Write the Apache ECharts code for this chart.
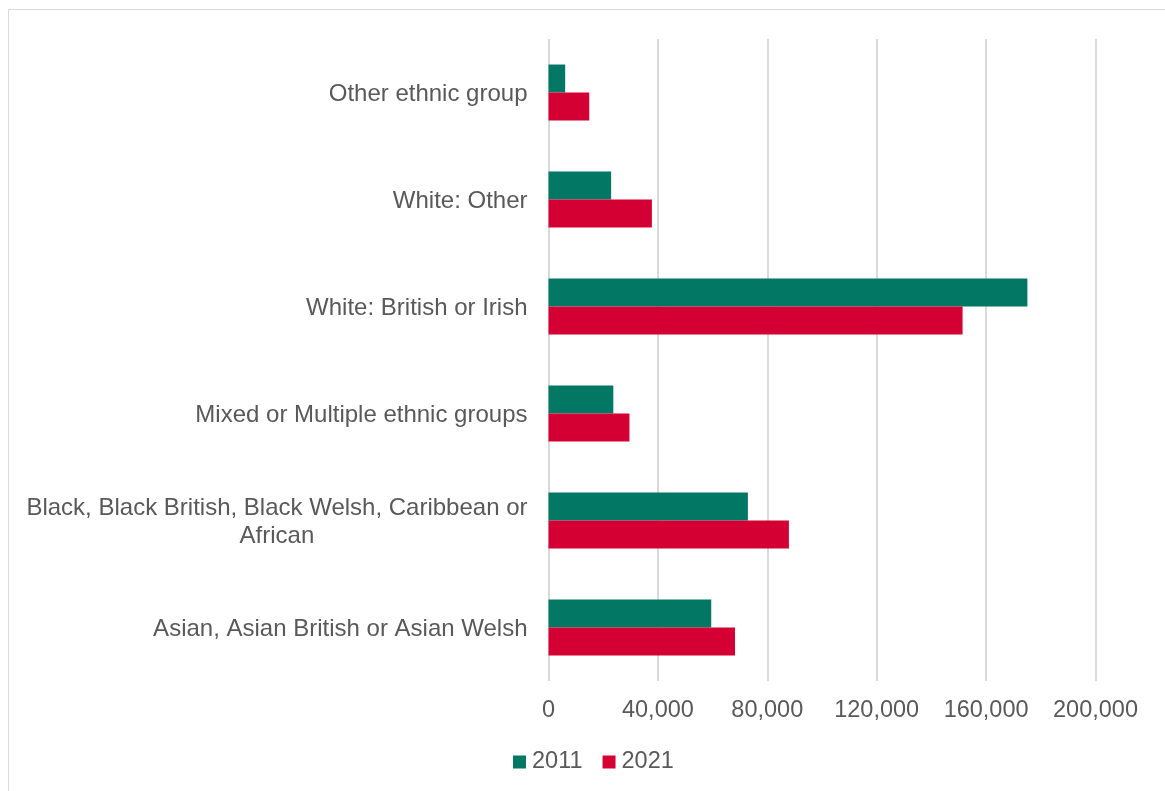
<!DOCTYPE html>
<html>
<head>
<meta charset="utf-8">
<script src="https://cdn.jsdelivr.net/npm/echarts@6/dist/echarts.min.js"></script>
<style>
  html, body { margin: 0; padding: 0; background: #ffffff; }
  #chart { width: 1165px; height: 791px; }
</style>
</head>
<body>
<div id="chart"></div>
<script>
// Population by ethnic group, census years 2011 and 2021 (listed bottom to top)
const categories = [
  'Asian, Asian British or Asian Welsh',
  'Black, Black British, Black Welsh, Caribbean or African',
  'Mixed or Multiple ethnic groups',
  'White: British or Irish',
  'White: Other',
  'Other ethnic group'
];
const values2011 = [59500, 72900, 23700, 175100, 22900, 6100];
const values2021 = [68200, 87900, 29600, 151400, 37800, 14900];
const seriesNames = ['2011', '2021'];

const textColor = '#595959';
const gridColor = '#d9d9d9';
const fontFamily = '"Liberation Sans", Arial, sans-serif';

// Wrap long category names onto two centred lines
function wrapLabel(text) {
  const limit = 48;
  if (text.length <= limit) return text;
  const cut = text.lastIndexOf(' ', limit);
  return '{c|' + text.slice(0, cut) + '}\n{c|' + text.slice(cut + 1) + '}';
}

const chart = echarts.init(document.getElementById('chart'), null, { renderer: 'canvas' });

chart.setOption({
  backgroundColor: '#ffffff',
  animation: false,
  textStyle: { fontFamily: fontFamily },
  graphic: [{
    type: 'rect',
    shape: { x: 8.5, y: 9.5, width: 1200, height: 900 },
    style: { fill: 'none', stroke: gridColor, lineWidth: 1 },
    silent: true
  }],
  grid: { left: 548.5, right: 69.5, top: 39, bottom: 110, containLabel: false },
  legend: {
    data: seriesNames,
    bottom: 12,
    left: 508,
    icon: 'rect',
    itemWidth: 13,
    itemHeight: 13,
    itemGap: 20,
    textStyle: { color: textColor, fontSize: 23.5, fontFamily: fontFamily, padding: [0, 0, 0, 1] }
  },
  xAxis: {
    type: 'value',
    min: 0,
    max: 200000,
    interval: 40000,
    axisLine: { show: false },
    axisTick: { show: false },
    splitLine: { show: true, lineStyle: { color: gridColor, width: 2 } },
    axisLabel: {
      color: textColor,
      fontSize: 23.5,
      fontFamily: fontFamily,
      margin: 18,
      formatter: v => v.toLocaleString('en-GB')
    }
  },
  yAxis: {
    type: 'category',
    data: categories,
    axisLine: { show: false },
    axisTick: { show: false },
    splitLine: { show: false },
    axisLabel: {
      color: textColor,
      fontSize: 24,
      fontFamily: fontFamily,
      margin: 21,
      lineHeight: 28,
      padding: [3, 0, 0, 0],
      formatter: wrapLabel,
      rich: {
        c: { align: 'center', fontSize: 24, color: textColor, fontFamily: fontFamily, lineHeight: 28 }
      }
    }
  },
  series: [
    {
      name: '2011',
      type: 'bar',
      data: values2011,
      itemStyle: { color: '#027763' },
      barGap: '0%',
      barCategoryGap: '47.7%'
    },
    {
      name: '2021',
      type: 'bar',
      data: values2021,
      itemStyle: { color: '#d40034' },
      barGap: '0%',
      barCategoryGap: '47.7%'
    }
  ]
});
</script>
</body>
</html>
